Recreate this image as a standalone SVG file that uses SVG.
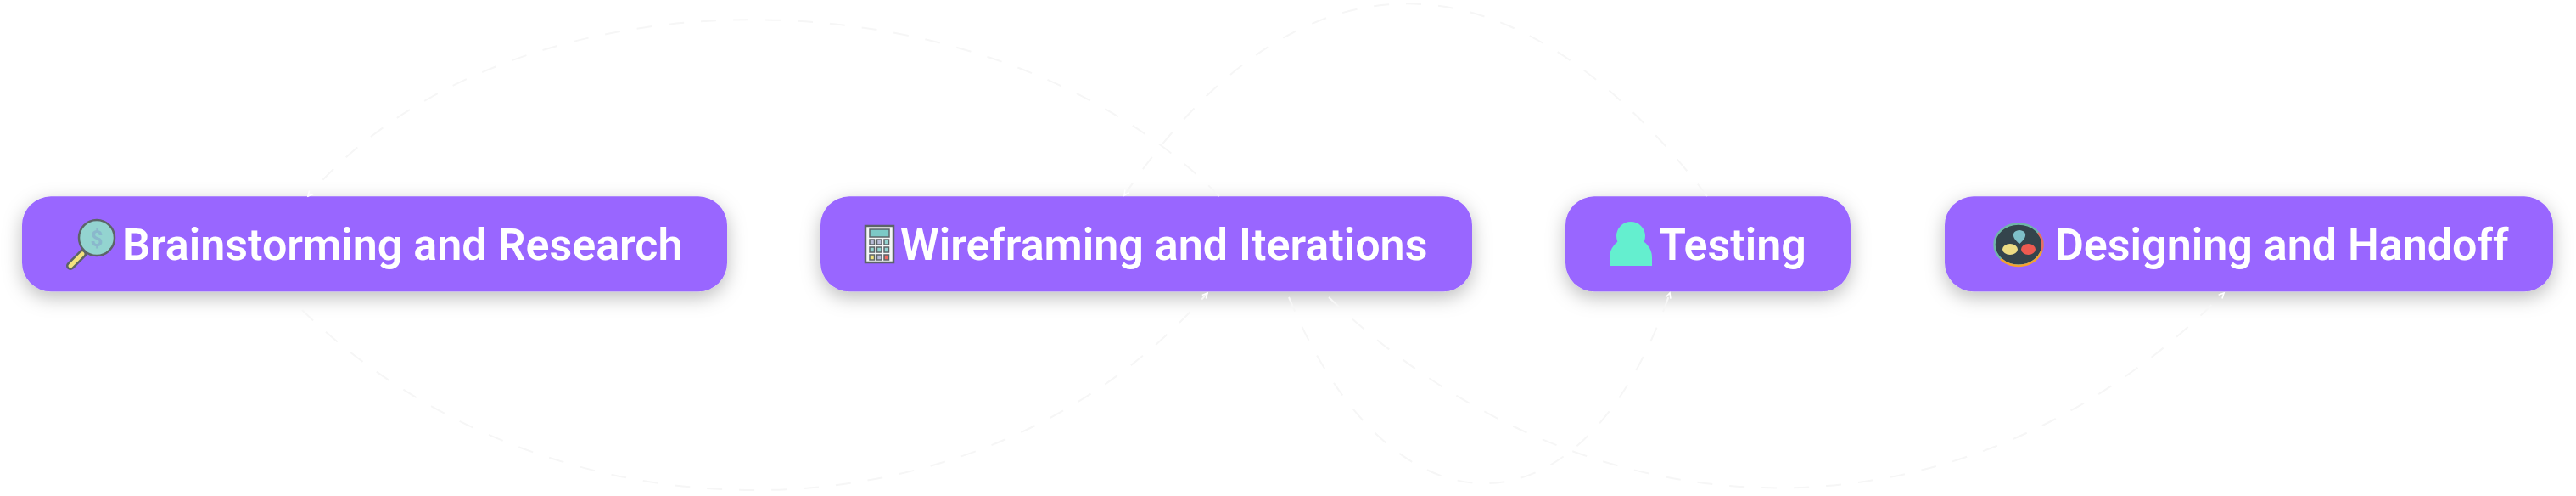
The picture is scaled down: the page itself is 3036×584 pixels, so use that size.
<svg xmlns="http://www.w3.org/2000/svg" width="3036" height="584" viewBox="0 0 3036 584">
<defs>
<filter id="sh" x="-15%" y="-50%" width="130%" height="200%"><feDropShadow dx="0" dy="7" stdDeviation="11" flood-color="#000" flood-opacity="0.26"/></filter>
<marker id="arr" markerWidth="10" markerHeight="10" refX="7" refY="4" orient="auto" markerUnits="userSpaceOnUse"><path d="M1 1L7 4L1 7" fill="none" stroke="#fff" stroke-width="1.6"/></marker>
</defs>
<style>
.box{fill:#9966ff;filter:url(#sh)}
.lbl{font-family:Roboto,"Liberation Sans",sans-serif;font-weight:600;font-size:52px;fill:#fff}
.c{fill:none;stroke:#f6f6f6;stroke-width:2;stroke-dasharray:18 20;marker-end:url(#arr)}
.o{stroke:#5c6468;stroke-width:2.5}
</style>
<rect width="3036" height="584" fill="#fff"/>
<g id="nodes-bg">
<g id="n1"><rect class="box" x="26" y="231.3" width="831" height="112" rx="34"/></g>
<g id="n2"><rect class="box" x="967" y="231.3" width="768" height="112" rx="34"/></g>
<g id="n3"><rect class="box" x="1845" y="231.3" width="336" height="112" rx="34"/></g>
<g id="n4"><rect class="box" x="2292" y="231.3" width="717" height="112" rx="34"/></g>
</g>
<g id="connectors">
<path class="c" d="M1437 231C1165 -46 600 -46 363 231"/>
<path class="c" d="M2012 231C1780 -71 1530 -71 1325 230"/>
<path class="c" d="M356 365C651 651 1155 651 1423 345"/>
<path class="c" d="M1519 350C1640 643 1866 643 1968 345"/>
<path class="c" d="M1566 350C1880 650 2320 650 2621 345"/>
</g>
<g id="labels">
<g id="icon-search">
<path d="M83 313L98 298" stroke="#5c6468" stroke-width="10" stroke-linecap="round"/>
<path d="M83 313L97 299" stroke="#f2e27e" stroke-width="5" stroke-linecap="round"/>
<circle class="o" cx="114" cy="280" r="21" fill="#93d4d0"/>
<text x="114" y="290" text-anchor="middle" font-family="Roboto,sans-serif" font-weight="700" font-size="26" fill="#8ab8cc">$</text>
</g>
<g id="icon-calc">
<rect x="1020" y="266" width="33" height="43" fill="#f4f6f6" stroke="#5c6468" stroke-width="2.5"/>
<rect x="1025" y="270" width="23" height="9" fill="#7cc9c6" stroke="#5c6468" stroke-width="1.5"/>
<g stroke="#5c6468" stroke-width="1.5">
<rect x="1025" y="282" width="5.500" height="6" fill="#b8bcd8"/><rect x="1033.500" y="282" width="5.500" height="6" fill="#b8bcd8"/><rect x="1042" y="282" width="5.500" height="6" fill="#93d4d0"/>
<rect x="1025" y="291" width="5.500" height="6" fill="#93d4d0"/><rect x="1033.500" y="291" width="5.500" height="6" fill="#93d4d0"/><rect x="1042" y="291" width="5.500" height="6" fill="#93d4d0"/>
<rect x="1025" y="300" width="5.500" height="6" fill="#f2e27e"/><rect x="1033.500" y="300" width="5.500" height="6" fill="#b8bcd8"/><rect x="1042" y="300" width="5.500" height="6" fill="#ee6a62"/>
</g>
</g>
<g id="icon-user" fill="#64efcf">
<circle cx="1922" cy="278" r="17"/>
<path d="M1897 313V303C1897 292 1905 284 1912 282H1932C1939 284 1947 292 1947 303V313Z"/>
</g>
<g id="icon-resolve">
<ellipse cx="2379" cy="288" rx="28.500" ry="24.500" fill="#34444c" stroke="#6fb5a8" stroke-width="2.500"/>
<path d="M2358 305A28.500 24.500 0 0 0 2406 296" fill="none" stroke="#f5a030" stroke-width="2.500"/>
<path d="M2406 296A28.500 24.500 0 0 0 2402 274" fill="none" stroke="#ee6a62" stroke-width="2.500"/>
<path d="M2380 287C2371 280 2370 272 2380 271C2390 272 2389 280 2380 287Z" fill="#7fbfc8"/>
<ellipse cx="2369" cy="293.500" rx="9" ry="6.500" fill="#ecdc84"/>
<ellipse cx="2390.500" cy="293.500" rx="8.500" ry="6.500" fill="#ee5a50"/>
</g>
<text class="lbl" x="144" y="306">Brainstorming and Research</text>
<text class="lbl" x="1061" y="306">Wireframing and Iterations</text>
<text class="lbl" x="1955" y="306">Testing</text>
<text class="lbl" x="2422" y="306">Designing and Handoff</text>
</g>
</svg>
